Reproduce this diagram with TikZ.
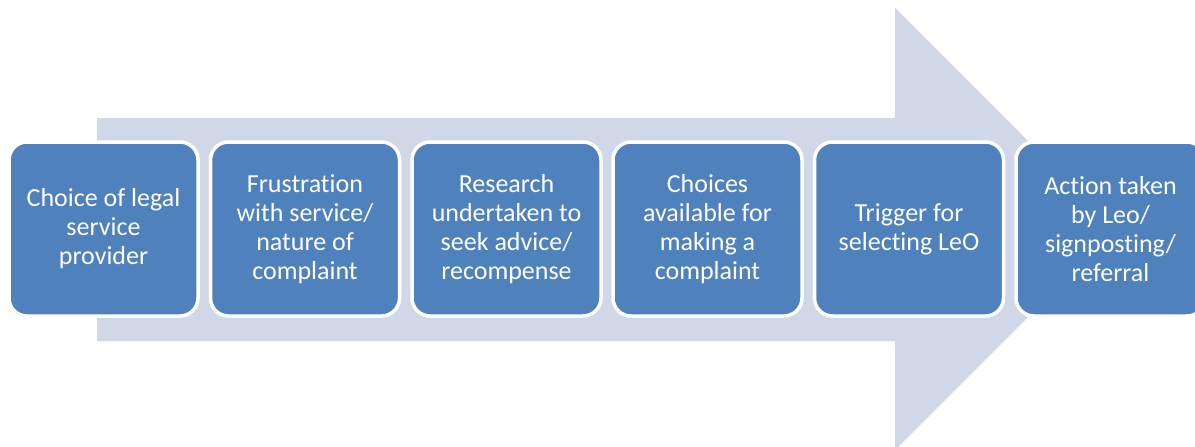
\documentclass[tikz,border=0pt]{standalone}
\usepackage{fontspec}
\setmainfont[Ligatures=NoCommon]{Carlito}
\definecolor{boxblue}{HTML}{4F81BD}
\definecolor{arrowgray}{HTML}{D0D8E8}
\begin{document}
\begin{tikzpicture}[x=1pt,y=-1pt,
  stepbox/.style={draw=white, line width=3.5pt, fill=boxblue, rounded corners=18pt,
    minimum width=189pt, minimum height=174pt, text=white, align=center,
    font=\fontsize{26}{29}\selectfont, inner sep=0pt},
  bigarrow/.style={fill=arrowgray}]
\useasboundingbox (0,0) rectangle (1195,447);
\clip (0,0) rectangle (1195,447);
\fill[bigarrow] (97,118) -- (895,118) -- (895,8) -- (1116,229) -- (895,450) -- (895,341) -- (97,341) -- cycle;
\node[stepbox] (n1) at (103.5,229) {Choice of legal\\service\\provider};
\node[stepbox] (n2) at (305,229) {Frustration\\with service/\\nature of\\complaint};
\node[stepbox] (n3) at (506.5,229) {Research\\undertaken to\\seek advice/\\recompense};
\node[stepbox] (n4) at (707.5,229) {Choices\\available for\\making a\\complaint};
\node[stepbox] (n5) at (909,229) {Trigger for\\selecting LeO};
\node[stepbox] (n6) at (1110.5,229) {Action taken\\by Leo/\\signposting/\\referral};
\end{tikzpicture}
\end{document}
